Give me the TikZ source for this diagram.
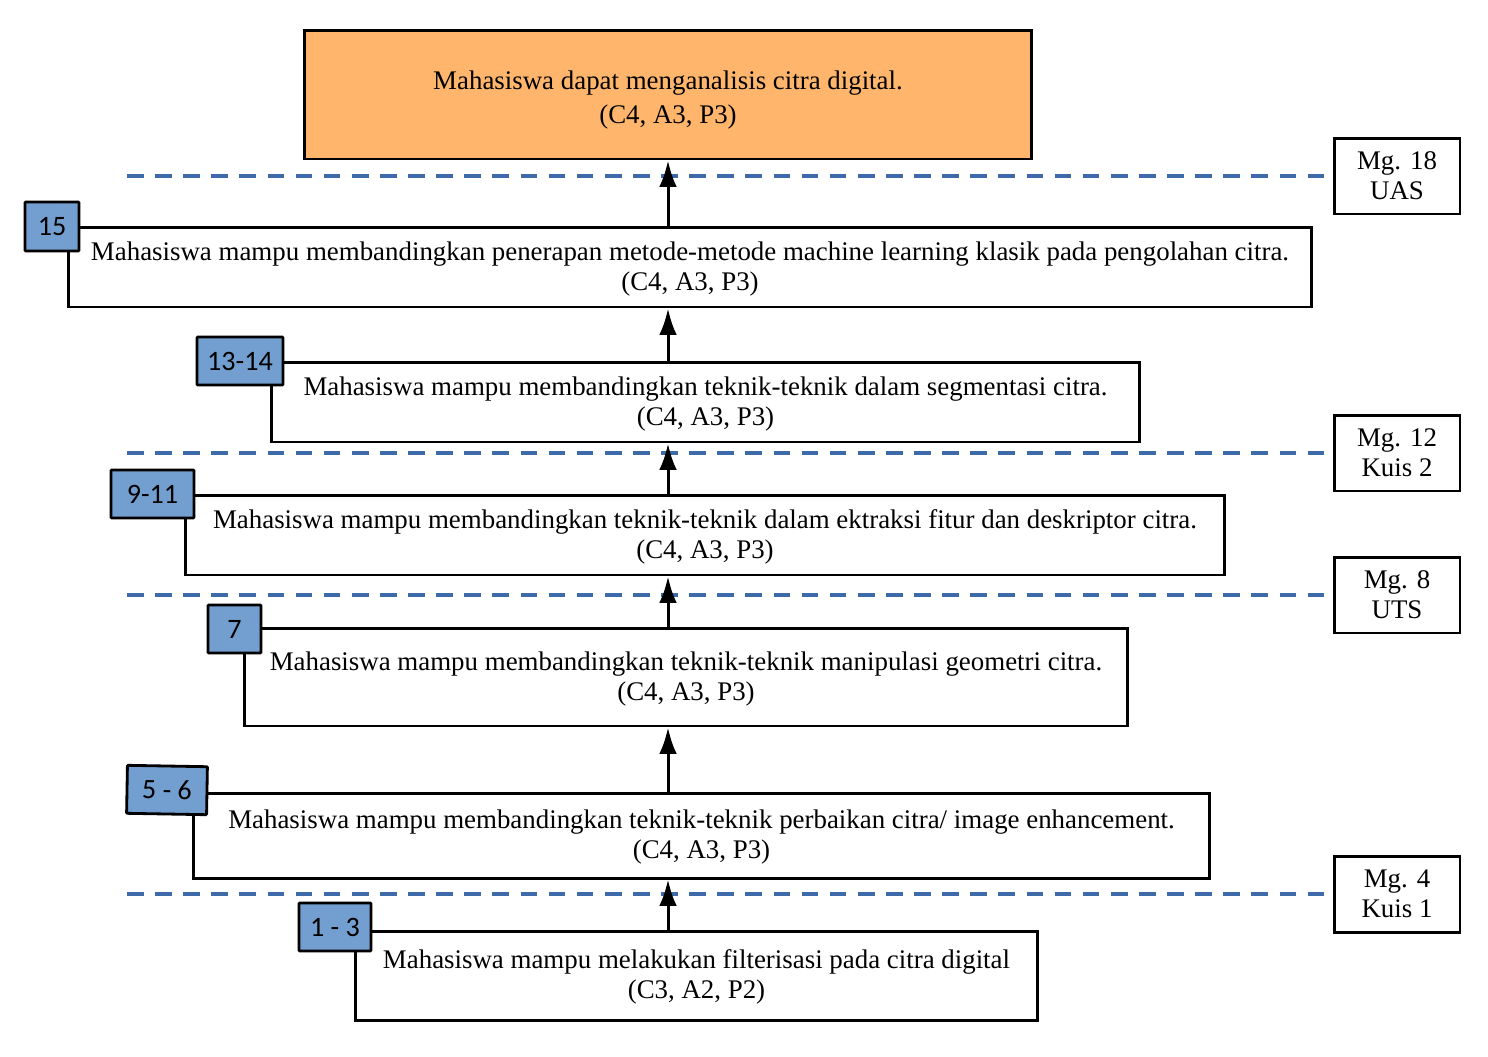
\documentclass[tikz,border=0pt]{standalone}
\usepackage{fontspec}
\setmainfont{Liberation Serif}
\newfontfamily\badgefont{Carlito}
\usetikzlibrary{arrows.meta}
\definecolor{goalorange}{RGB}{255,182,108}
\definecolor{weekblue}{RGB}{114,159,207}
\definecolor{lineblue}{RGB}{62,106,170}
\newcommand{\lift}[1]{\rule{0pt}{#1}}
\tikzset{every node/.style={rectangle,draw,line width=1.7pt,fill=white,align=center,inner sep=0pt,font=\fontsize{15.3}{17}\selectfont}}
\tikzset{c/.style={minimum height=1.6cm}}
\tikzset{w/.style={fill=weekblue,line width=1.6pt,rounded corners=0.5pt,minimum height=0.96cm,font=\badgefont\fontsize{16}{18}\selectfont}}
\tikzset{m/.style={minimum width=2.52cm,minimum height=1.52cm}}
\tikzset{d/.style={lineblue,line width=1.8pt,dash pattern=on 9.5pt off 6.5pt}}
\tikzset{a/.style={line width=1.7pt,-{Latex[length=15pt,width=10pt]}}}
\begin{document}
\begin{tikzpicture}[x=0.02cm,y=-0.02cm]
      \useasboundingbox (0,0) rectangle (1488,1056);
      % exam weeks on the right
      \node[m] (mg18) at (1397,176) {Mg. 18\\UAS};
      \node[m] (mg12) at (1397,453) {Mg. 12\\Kuis 2};
      \node[m] (mg8) at (1397,595) {Mg. 8\\UTS};
      \node[m] (mg4) at (1397,894) {Mg. 4\\Kuis 1};
      \coordinate (d18) at (127,176);
      \coordinate (d12) at (127,453);
      \coordinate (d8) at (127,595);
      \coordinate (d4) at (127,894);
      \draw[d] (d18) -- (mg18.west);
      \draw[d] (d12) -- (mg12.west);
      \draw[d] (d8) -- (mg8.west);
      \draw[d] (d4) -- (mg4.west);
      % learning outcomes
      \node[fill=goalorange,minimum width=14.56cm,minimum height=2.58cm,font=\fontsize{15.3}{19.4}\selectfont] (top) at (668,94.5) {\lift{16.6pt}Mahasiswa dapat menganalisis citra digital.\\(C4, A3, P3)};
      \node[c,minimum width=24.88cm] (b15) at (690,267) {\lift{12.6pt}Mahasiswa mampu membandingkan penerapan metode-metode machine learning klasik pada pengolahan citra.\\(C4, A3, P3)};
      \node[c,minimum width=17.38cm] (b1314) at (705.5,402) {\lift{12.6pt}Mahasiswa mampu membandingkan teknik-teknik dalam segmentasi citra.\\(C4, A3, P3)};
      \node[c,minimum width=20.8cm] (b911) at (705,535) {\lift{12.6pt}Mahasiswa mampu membandingkan teknik-teknik dalam ektraksi fitur dan deskriptor citra.\\(C4, A3, P3)};
      \node[minimum width=17.68cm,minimum height=1.96cm] (b7) at (686,677) {\lift{12.6pt}Mahasiswa mampu membandingkan teknik-teknik manipulasi geometri citra.\\(C4, A3, P3)};
      \node[minimum width=20.34cm,minimum height=1.7cm] (b56) at (701.5,835.5) {\lift{12.6pt}Mahasiswa mampu membandingkan teknik-teknik perbaikan citra/ image enhancement.\\(C4, A3, P3)};
      \node[minimum width=13.66cm,minimum height=1.78cm] (b13) at (696.5,975.5) {\lift{12.6pt}Mahasiswa mampu melakukan filterisasi pada citra digital\\(C3, A2, P2)};
      % week badges
      \node[w,minimum width=1.08cm,minimum height=0.98cm] (w15) at (52,226.5) {15};
      \node[w,minimum width=1.72cm] (w1314) at (240,361) {13-14};
      \node[w,minimum width=1.66cm] (w911) at (152.5,494) {9-11};
      \node[w,minimum width=1.06cm] (w7) at (234.5,629) {7};
      \node[w,minimum width=1.6cm,rotate=-1] (w56) at (167,790) {5 - 6};
      \node[w,minimum width=1.44cm] (w13) at (335,927) {1 - 3};
      % arrows
      \draw[a] (b13.north -| top.south) -- (b56.south -| top.south);
      \draw[a] (b56.north -| top.south) -- (b7.south -| top.south);
      \draw[a] (b7.north -| top.south) -- (b911.south -| top.south);
      \draw[a] (b911.north -| top.south) -- (b1314.south -| top.south);
      \draw[a] (b1314.north -| top.south) -- (b15.south -| top.south);
      \draw[a] (b15.north -| top.south) -- (top.south);
    \end{tikzpicture}
\end{document}
